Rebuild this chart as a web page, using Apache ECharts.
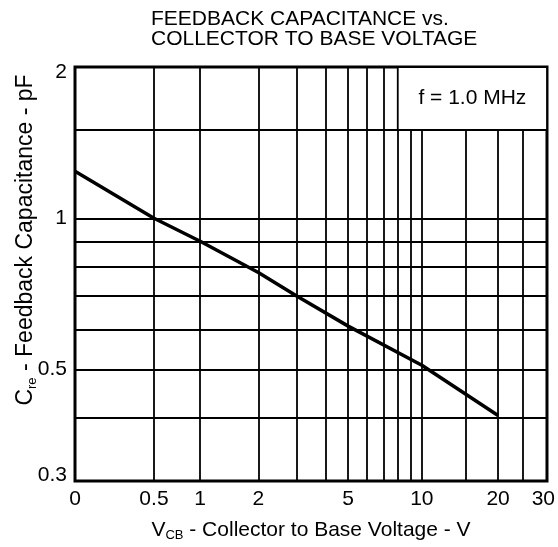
<!DOCTYPE html>
<html>
<head>
<meta charset="utf-8">
<script src="https://cdn.jsdelivr.net/npm/echarts@6/dist/echarts.min.js"></script>
<style>
html,body{margin:0;padding:0;background:#fff;}
#chart{width:558px;height:547px;}
</style>
</head>
<body>
<div id="chart"></div>
<script>
// ---- data ----
const vcb = [0, 0.5, 1, 2, 3, 5, 10, 20];                 // V
const cre = [1.24, 1.0, 0.90, 0.78, 0.70, 0.61, 0.51, 0.405]; // pF
const xGridV = [0, 0.5, 1, 2, 3, 4, 5, 6, 7, 8, 9, 10, 15, 20, 25];
const xLabelV = [0, 0.5, 1, 2, 5, 10, 20, 30];
const xLabelText = ['0', '0.5', '1', '2', '5', '10', '20', '30'];
const yGridC = [0.3, 0.4, 0.5, 0.6, 0.7, 0.8, 0.9, 1, 1.5, 2];
const yLabelC = [0.3, 0.5, 1, 2];
const yLabelText = ['0.3', '0.5', '1', '2'];
const xRange = [0, 31];
const yRange = [0.3, 2];
const noteText = 'f = 1.0 MHz';
const noteBox = { vFrom: 8, cFrom: 1.5 };

// axis transforms: x ~ log(V + 0.5), y ~ log(C)
const fx = v => Math.log10(v + 0.5);
const fy = c => Math.log10(c);

function nearestIdx(arr, val) {
  let best = 0, d = Infinity;
  arr.forEach((a, i) => { const dd = Math.abs(a - val); if (dd < d) { d = dd; best = i; } });
  return best;
}
const xLabelT = xLabelV.map(fx);
const yLabelT = yLabelC.map(fy);

const FONT = 'Liberation Sans, Arial, Helvetica, sans-serif';
const chart = echarts.init(document.getElementById('chart'), null, { renderer: 'canvas' });

const option = {
  animation: false,
  backgroundColor: '#fff',
  textStyle: { fontFamily: FONT, color: '#000' },
  title: {
    text: 'FEEDBACK CAPACITANCE vs.\nCOLLECTOR TO BASE VOLTAGE',
    left: 146, top: 4,
    textStyle: { fontFamily: FONT, fontSize: 21, fontWeight: 'normal', color: '#000', lineHeight: 20 }
  },
  grid: {
    left: 75, top: 67, width: 473, height: 415,
    show: true, borderColor: '#000', borderWidth: 3, backgroundColor: 'transparent'
  },
  xAxis: {
    type: 'value', min: fx(xRange[0]), max: fx(xRange[1]),
    axisLine: { show: false },
    axisTick: { show: false, customValues: xGridV.map(fx) },
    splitLine: { show: true, lineStyle: { color: '#000', width: 1.8 } },
    axisLabel: {
      customValues: xLabelT, margin: 8, fontSize: 21, color: '#000', fontFamily: FONT,
      formatter: val => xLabelText[nearestIdx(xLabelT, val)]
    },
    name: '{m|V}{s|CB}{m| - Collector to Base Voltage - V}',
    nameLocation: 'middle', nameGap: 37,
    nameTextStyle: {
      rich: {
        m: { fontSize: 21, color: '#000', fontFamily: FONT, lineHeight: 24 },
        s: { fontSize: 13, color: '#000', fontFamily: FONT, verticalAlign: 'bottom', lineHeight: 19 }
      }
    }
  },
  yAxis: {
    type: 'value', min: fy(yRange[0]), max: fy(yRange[1]),
    axisLine: { show: false },
    axisTick: { show: false, customValues: yGridC.map(fy) },
    splitLine: { show: true, lineStyle: { color: '#000', width: 1.8 } },
    axisLabel: {
      customValues: yLabelT, margin: 8, fontSize: 21, color: '#000', fontFamily: FONT,
      formatter: val => {
        const i = nearestIdx(yLabelT, val);
        if (i === yLabelT.length - 1) return '{t|' + yLabelText[i] + '}';
        if (i === 0) return '{b|' + yLabelText[i] + '}';
        return yLabelText[i];
      },
      rich: {
        t: { fontSize: 21, color: '#000', fontFamily: FONT, padding: [10, 0, 0, 0] },
        b: { fontSize: 21, color: '#000', fontFamily: FONT, padding: [0, 0, 12, 0] }
      }
    }
  },
  graphic: [{
    type: 'text',
    x: 26, y: 240, rotation: Math.PI / 2,
    style: {
      text: '{m|C}{s|re}{m| - Feedback Capacitance - pF}',
      align: 'center', verticalAlign: 'middle', fill: '#000',
      rich: {
        m: { fontSize: 23, fill: '#000', fontFamily: FONT, lineHeight: 26 },
        s: { fontSize: 13, fill: '#000', fontFamily: FONT, verticalAlign: 'bottom', lineHeight: 21 }
      }
    }
  }],
  series: [{
    type: 'line',
    data: vcb.map((v, i) => [fx(v), fy(cre[i])]),
    showSymbol: false, symbol: 'none',
    lineStyle: { color: '#000', width: 3.5 },
    silent: true,
    markArea: {
      silent: true,
      itemStyle: { color: '#fff', opacity: 1, borderColor: '#000', borderWidth: 1.8 },
      label: { show: true, position: 'inside', formatter: noteText, fontSize: 21, color: '#000', fontFamily: FONT },
      emphasis: { disabled: true },
      data: [[
        { xAxis: fx(noteBox.vFrom), yAxis: fy(noteBox.cFrom) },
        { xAxis: fx(xRange[1]), yAxis: fy(yRange[1]) }
      ]]
    }
  }]
};
chart.setOption(option);
</script>
</body>
</html>
